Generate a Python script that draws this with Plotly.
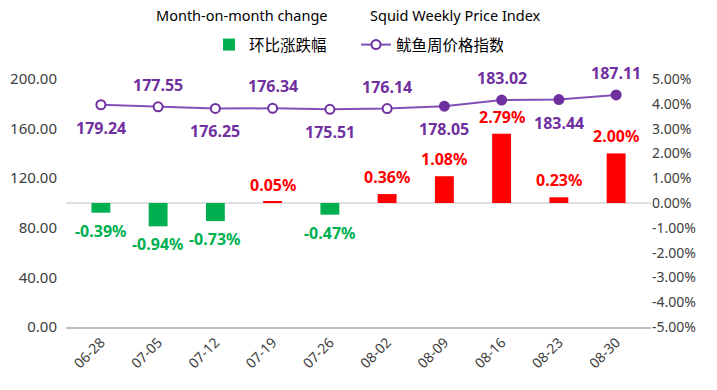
import plotly.graph_objects as go

dates = ["06-28", "07-05", "07-12", "07-19", "07-26", "08-02", "08-09", "08-16", "08-23", "08-30"]
price_index = [179.24, 177.55, 176.25, 176.34, 175.51, 176.14, 178.05, 183.02, 183.44, 187.11]
mom_change = [-0.39, -0.94, -0.73, 0.05, -0.47, 0.36, 1.08, 2.79, 0.23, 2.00]
filled_marker = [False, False, False, False, False, False, True, True, True, True]
label_above = [False, True, False, True, False, True, False, True, False, True]
left_ticks = [0, 40, 80, 120, 160, 200]
right_ticks = [-5, -4, -3, -2, -1, 0, 1, 2, 3, 4, 5]

PURPLE = "#7030A0"
LINE = "#8050B8"
RED = "#FF0000"
GREEN = "#00B050"
FONT = "Noto Sans, Noto Sans CJK SC, sans-serif"

W, H = 717, 390
L, R, T, B = 66, 66, 79, 63
PW, PH = W - L - R, H - T - B

bar_colors = [RED if v >= 0 else GREEN for v in mom_change]

fig = go.Figure()
fig.add_trace(go.Bar(
    x=dates, y=mom_change, yaxis="y2", name="环比涨跌幅",
    marker=dict(color=bar_colors, line=dict(width=0)), width=0.33,
))
fig.add_trace(go.Scatter(
    x=dates, y=price_index, yaxis="y", name="鱿鱼周价格指数", mode="lines+markers",
    line=dict(color=LINE, width=2),
    marker=dict(size=9, symbol="circle",
                color=[PURPLE if f else "white" for f in filled_marker],
                line=dict(color=PURPLE, width=2)),
))

ann = []
for d, v, up in zip(dates, price_index, label_above):
    ann.append(dict(x=d, y=v, xref="x", yref="y", text=f"{v:.2f}", showarrow=False,
                    yshift=22 if up else -23,
                    font=dict(family=FONT, size=16, color=PURPLE, weight="bold")))
for d, v, c in zip(dates, mom_change, bar_colors):
    ann.append(dict(x=d, y=v, xref="x", yref="y2", text=f"{v:.2f}%", showarrow=False,
                    yshift=17 if v >= 0 else -18,
                    font=dict(family=FONT, size=16, color=c, weight="bold")))

def px_to_paper(px, py):
    return (px - L) / PW, (H - B - py) / PH

for txt, cx in [("Month-on-month change", 242), ("Squid Weekly Price Index", 455)]:
    xp, yp = px_to_paper(cx, 15)
    ann.append(dict(x=xp, y=yp, xref="paper", yref="paper", text=txt, showarrow=False,
                    xanchor="center", yanchor="middle",
                    font=dict(family=FONT, size=14.5, color="#000000")))

fig.update_layout(
    width=W, height=H,
    margin=dict(l=L, r=R, t=T, b=B, autoexpand=False),
    paper_bgcolor="white", plot_bgcolor="white",
    font=dict(family=FONT, size=13, color="#404040"),
    showlegend=True,
    legend=dict(orientation="h", xref="container", yref="container",
                x=209 / W, y=1 - 28 / H, xanchor="left", yanchor="top",
                font=dict(family=FONT, size=15.5, color="#000000"),
                entrywidth=102, traceorder="normal"),
    xaxis=dict(type="category", tickangle=-45, showgrid=False, showline=True,
               linecolor="#BFBFBF", linewidth=1.5, ticks="", automargin=False,
               tickfont=dict(family=FONT, size=14, color="#404040")),
    yaxis=dict(range=[0, 200], tickvals=left_ticks,
               ticktext=[f"{v:.2f}" for v in left_ticks], showgrid=False,
               zeroline=False, ticklabelstandoff=8, automargin=False,
               tickfont=dict(family=FONT, size=15, color="#404040")),
    yaxis2=dict(range=[-5, 5], tickvals=right_ticks,
                ticktext=[f"{v:.2f}%" for v in right_ticks],
                overlaying="y", side="right", showgrid=False, automargin=False,
                zeroline=True, zerolinecolor="#E0E0E0", zerolinewidth=1.5,
                tickfont=dict(family=FONT, size=14, color="#404040")),
    annotations=ann,
)

fig.write_html("out.html", config={"displayModeBar": False},
               post_script="document.body.style.margin='0';")
